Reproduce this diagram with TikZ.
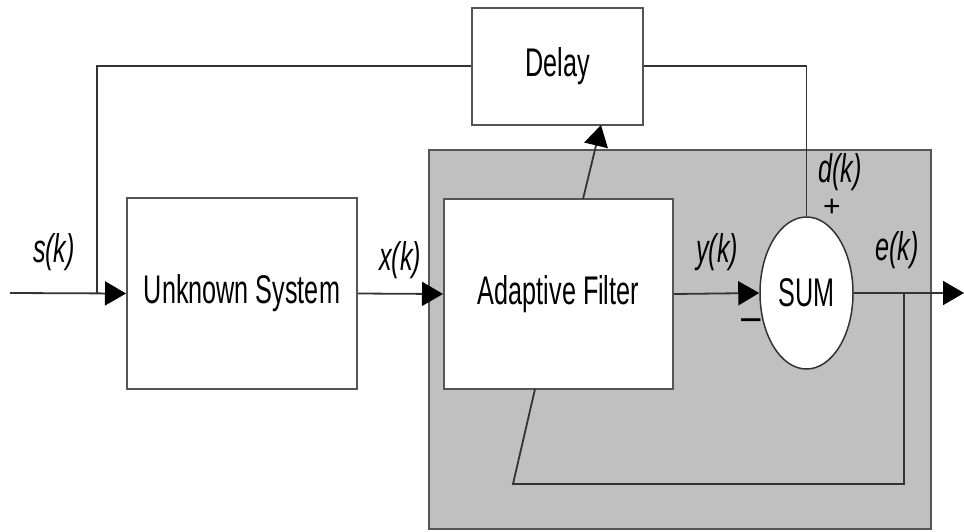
\documentclass[tikz,border=0pt]{standalone}
\usepackage{fontspec}
\setmainfont{Liberation Sans}[FakeStretch=0.63]
\newfontfamily\signfont{Liberation Sans}
\usetikzlibrary{arrows.meta,shapes.geometric}
\definecolor{panel}{HTML}{C0C0C0}
\definecolor{wire}{HTML}{333333}
\definecolor{frame}{HTML}{555555}
\tikzset{
  block/.style={draw=frame,line width=2pt,fill=white,rectangle,inner sep=0pt,
    font=\fontsize{40}{46}\selectfont},
  summer/.style={draw=wire,line width=1.5pt,fill=white,ellipse,inner sep=0pt,
    font=\fontsize{40}{46}\selectfont},
  wireline/.style={draw=wire,line width=1.8pt},
  sig/.style={wireline,-{Triangle[length=21pt,width=24pt,fill=black,color=black]}},
  lbl/.style={font=\fontsize{40}{46}\selectfont\itshape,inner sep=0pt},
  sgn/.style={font=\signfont\fontsize{30}{34}\selectfont,inner sep=0pt}
}
\begin{document}
\begin{tikzpicture}[x=1pt,y=-1pt]
\useasboundingbox (0,0) rectangle (964,531);
% shaded region around the adaptive part
\draw[frame,line width=2pt,fill=panel] (429,150) rectangle (931,529);

% blocks
\node[block,minimum width=171pt,minimum height=117pt] (delay) at (557.5,66) {Delay};
\node[block,minimum width=230pt,minimum height=191pt] (us) at (242,293.5) {Unknown System};
\node[block,minimum width=229pt,minimum height=190pt] (af) at (558.5,294) {Adaptive Filter};
\node[summer,minimum width=93pt,minimum height=152pt] (sum) at (806.5,293) {SUM};

% free ends and bends
\coordinate (in) at (10,293);
\coordinate (tap) at (97,293);
\coordinate (out) at (964,293);
\coordinate (etap) at (904,293);
\coordinate (fbcorner) at (513,484);
\coordinate (fbend) at (535,389);
\coordinate (adfrom) at (583,199);
\coordinate (adto) at (601,125);

% signal path
\draw[sig] (in) -- (us.west);
\draw[sig] (us.east) -- (af.west);
\draw[sig] (af.east) -- (sum.west);
\draw[sig] (sum.east) -- (out);

% delayed reference to the summer
\draw[wireline] (tap) |- (delay.west);
\draw[wireline] (delay.east) -| (sum.north);

% error feedback into the adaptive filter
\draw[wireline] (etap) |- (fbcorner) -- (fbend);

% coefficient adjustment arrow
\draw[sig] (adfrom) -- (adto);

% labels
\node[lbl] (ls) at (54,252) {s(k)};
\node[lbl] (lx) at (400,260) {x(k)};
\node[lbl] (ly) at (717,252) {y(k)};
\node[lbl] (le) at (897,250) {e(k)};
\node[lbl] (ld) at (840,172) {d(k)};
\node[sgn] (lp) at (832,208) {+};
\node[sgn,font=\signfont\fontsize{40}{46}\selectfont] (lm) at (751,326) {−};
\end{tikzpicture}
\end{document}
